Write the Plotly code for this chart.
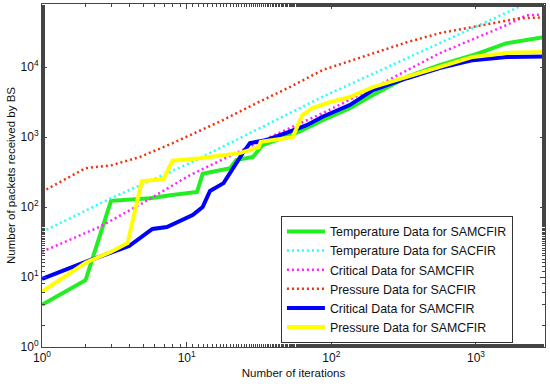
import plotly.graph_objects as go

# ---- data ----
temp_samcfir_x = [1, 2, 3, 5.6, 7.7, 11.8, 12.9, 20, 22, 28.7, 33.5, 42, 60, 87, 134, 194, 333, 560, 950, 1630, 3000]
temp_samcfir_y = [4, 9, 123, 134, 148, 165, 300, 360, 470, 520, 770, 910, 1200, 1750, 2600, 3990, 7250, 10700, 14800, 22000, 27000]

temp_sacfir_x = [1, 3, 10.5, 87, 560, 2200, 2400]
temp_sacfir_y = [44, 134, 425, 3770, 22000, 80000, 87000]

crit_samcfir_dot_x = [1, 2.5, 5, 10.5, 30.5, 87, 194, 560, 1630, 2230, 3000]
crit_samcfir_dot_y = [23, 52, 115, 285, 820, 2200, 5000, 15800, 40000, 55000, 57000]

press_sacfir_x = [1, 2, 3, 4.75, 8, 10.5, 17.8, 30.5, 51.5, 87, 128, 194, 333, 560, 950, 1630, 2000, 3000]
press_sacfir_y = [165, 360, 395, 520, 820, 1070, 1750, 3070, 5170, 9100, 11800, 15800, 22700, 30600, 37300, 46800, 50000, 51500]

crit_samcfir_x = [1, 2, 4, 5.8, 7.3, 11, 12.9, 14.5, 18, 22, 24.4, 27.4, 35.8, 51.5, 67.6, 87, 134, 194, 333, 560, 950, 1630, 3000]
crit_samcfir_y = [9.4, 16.5, 27.7, 48.6, 52, 77, 100, 170, 220, 425, 590, 820, 910, 1200, 1480, 1960, 2870, 4700, 6950, 9700, 12600, 14000, 14200]

press_samcfir_x = [1, 2, 3, 3.9, 4.9, 6.9, 8, 12.3, 23.3, 31.5, 32.5, 54, 57.5, 63, 74, 98, 134, 194, 333, 560, 950, 1630, 3000]
press_samcfir_y = [6.2, 16, 23, 30.6, 235, 250, 460, 500, 590, 720, 860, 1000, 1340, 2060, 2600, 3170, 3740, 5200, 7250, 10000, 14000, 16000, 16500]

x_tickvals = [1, 10, 100, 1000]
x_ticktext = ["10<sup>0</sup>", "10<sup>1</sup>", "10<sup>2</sup>", "10<sup>3</sup>"]
y_tickvals = [1, 10, 100, 1000, 10000]
y_ticktext = ["10<sup>0</sup>", "10<sup>1</sup>", "10<sup>2</sup>", "10<sup>3</sup>", "10<sup>4</sup>"]

DOT = "2px,3px"

fig = go.Figure()
fig.add_trace(go.Scatter(x=temp_samcfir_x, y=temp_samcfir_y, mode="lines",
                         name="Temperature Data for SAMCFIR",
                         line=dict(color="#22ee22", width=4)))
fig.add_trace(go.Scatter(x=temp_sacfir_x, y=temp_sacfir_y, mode="lines",
                         name="Temperature Data for SACFIR",
                         line=dict(color="#22ffff", width=2.5, dash=DOT)))
fig.add_trace(go.Scatter(x=crit_samcfir_dot_x, y=crit_samcfir_dot_y, mode="lines",
                         name="Critical Data for SAMCFIR",
                         line=dict(color="#ff22ff", width=2.5, dash=DOT)))
fig.add_trace(go.Scatter(x=press_sacfir_x, y=press_sacfir_y, mode="lines",
                         name="Pressure Data for SACFIR",
                         line=dict(color="#ee3311", width=2.5, dash=DOT)))
fig.add_trace(go.Scatter(x=crit_samcfir_x, y=crit_samcfir_y, mode="lines",
                         name="Critical Data for SAMCFIR",
                         line=dict(color="#0000ff", width=4)))
fig.add_trace(go.Scatter(x=press_samcfir_x, y=press_samcfir_y, mode="lines",
                         name="Pressure Data for SAMCFIR",
                         line=dict(color="#ffff00", width=4)))

axis_common = dict(
    type="log", showgrid=False, zeroline=False, automargin=False,
    showline=True, linecolor="#444", linewidth=1, mirror="allticks",
    ticks="inside", ticklen=5, tickcolor="#444",
    minor=dict(ticks="inside", ticklen=3, tickcolor="#444", showgrid=False),
    tickfont=dict(size=12, color="#111"),
)

fig.update_layout(
    width=550, height=384,
    margin=dict(l=42, r=5, t=4, b=37),
    paper_bgcolor="white", plot_bgcolor="white",
    font=dict(family="Liberation Sans, Arial, sans-serif", size=11, color="#111"),
    showlegend=True,
    legend=dict(x=0.475, y=0.012, xanchor="left", yanchor="bottom",
                bgcolor="white", bordercolor="#333", borderwidth=1,
                font=dict(size=12.4), tracegroupgap=0, itemwidth=38),
    xaxis=dict(range=[0, 3.477], tickvals=x_tickvals, ticktext=x_ticktext,
               title=dict(text="Number of iterations", font=dict(size=11.5), standoff=4),
               **axis_common),
    yaxis=dict(range=[0, 4.903], tickvals=y_tickvals, ticktext=y_ticktext,
               title=dict(text="Number of packets received by BS", font=dict(size=11.5), standoff=2),
               **axis_common),
)

fig.write_html("out.html", config={"displayModeBar": False},
               post_script="document.body.style.margin='0';document.body.style.padding='0';")
